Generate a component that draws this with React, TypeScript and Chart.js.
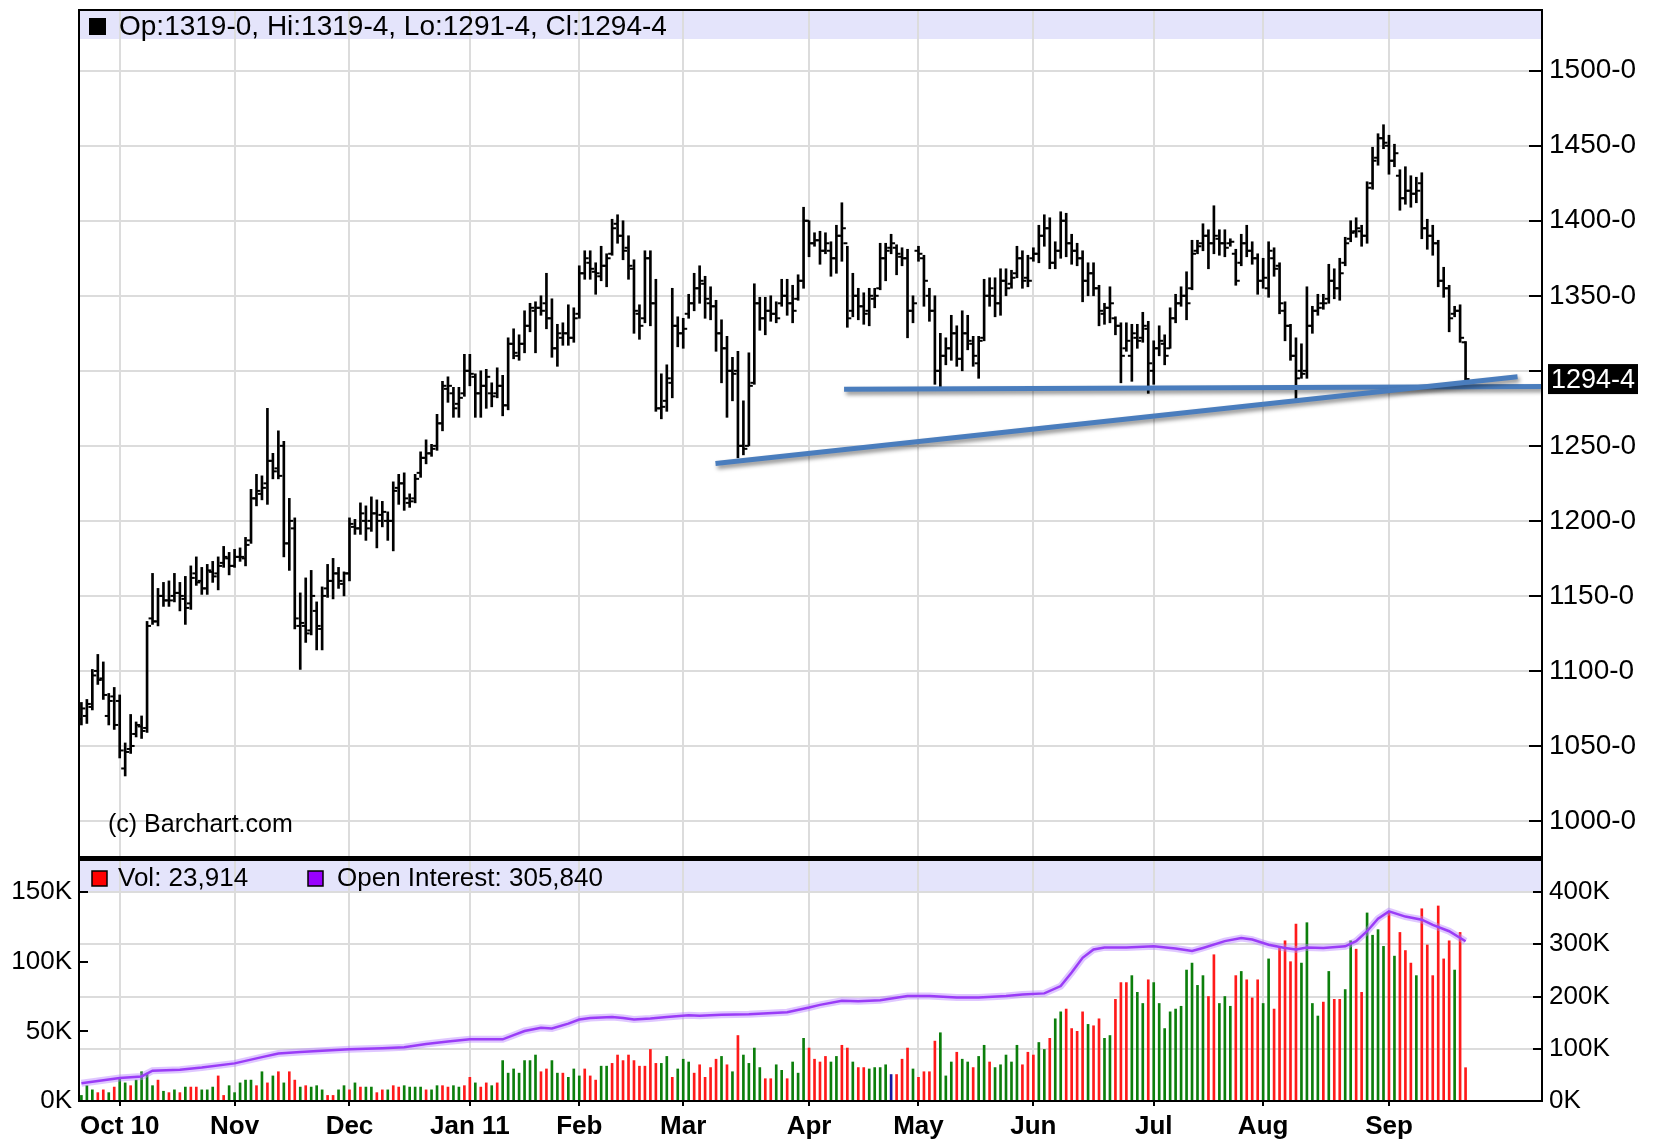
import React, { useEffect, useRef } from 'react';
import { Chart, registerables } from 'chart.js';

Chart.register(...registerables);

const FONT = "'Liberation Sans', Arial, Helvetica, sans-serif";

// ---------- axes / labels ----------
const monthIdx = [7, 28, 49, 71, 91, 110, 133, 153, 174, 196, 216, 239];
const monthLabels = ['Oct 10', 'Nov', 'Dec', 'Jan 11', 'Feb', 'Mar', 'Apr', 'May', 'Jun', 'Jul', 'Aug', 'Sep'];
const priceTicks = [1000, 1050, 1100, 1150, 1200, 1250, 1300, 1350, 1400, 1450, 1500];
const volTicks = [0, 50000, 100000, 150000];
const oiTicks = [0, 100000, 200000, 300000, 400000];

// ---------- daily OHLC (soybeans, index = trading day) ----------
const highs = [1079,1081,1101,1111,1106,1085,1089,1084,1052,1071,
1066,1070,1133,1165,1155,1159,1160,1165,1159,1163,
1170,1176,1169,1171,1173,1176,1183,1179,1181,1182,
1189,1221,1231,1230,1275,1245,1260,1253,1215,1202,
1152,1162,1167,1146,1156,1171,1175,1169,1166,1202,
1201,1212,1210,1216,1214,1213,1206,1226,1231,1232,
1218,1231,1246,1254,1251,1271,1293,1296,1289,1289,
1311,1311,1298,1300,1301,1292,1302,1297,1322,1328,
1324,1340,1345,1346,1350,1365,1348,1331,1332,1344,
1342,1370,1380,1380,1372,1383,1378,1401,1404,1400,
1390,1374,1344,1380,1380,1361,1298,1304,1355,1336,
1335,1351,1365,1370,1363,1356,1347,1334,1323,1309,
1313,1280,1312,1358,1349,1349,1350,1346,1361,1361,
1357,1364,1409,1400,1392,1393,1392,1386,1397,1412,
1383,1365,1355,1352,1355,1355,1385,1385,1391,1384,
1382,1381,1350,1383,1377,1355,1350,1325,1322,1337,
1330,1340,1337,1323,1323,1361,1362,1362,1368,1368,
1367,1383,1380,1377,1382,1397,1404,1402,1386,1406,
1405,1391,1385,1380,1372,1372,1357,1345,1356,1336,
1332,1332,1331,1331,1339,1333,1320,1330,1324,1342,
1351,1356,1366,1387,1387,1398,1394,1410,1394,1394,
1388,1381,1391,1397,1386,1378,1375,1386,1382,1372,
1346,1331,1322,1318,1356,1343,1351,1351,1371,1368,
1375,1389,1400,1402,1397,1426,1449,1458,1464,1457,
1451,1434,1436,1430,1429,1432,1401,1397,1387,1369,
1357,1343,1344,1319.5];

const lows = [1064,1065,1074,1091,1081,1064,1061,1042,1030,1045,
1056,1055,1059,1131,1130,1143,1143,1146,1140,1131,
1141,1157,1151,1151,1159,1154,1169,1164,1169,1173,
1170,1185,1210,1214,1211,1228,1228,1176,1167,1128,
1101,1119,1124,1114,1114,1149,1148,1155,1150,1160,
1191,1191,1187,1193,1182,1196,1187,1180,1211,1207,
1209,1212,1229,1238,1243,1247,1260,1279,1269,1269,
1283,1290,1269,1269,1275,1276,1282,1270,1274,1308,
1307,1312,1326,1312,1337,1328,1309,1303,1317,1317,
1319,1335,1361,1361,1351,1360,1356,1377,1385,1374,
1361,1325,1321,1332,1330,1273,1268,1273,1282,1316,
1315,1335,1340,1345,1335,1334,1313,1292,1269,1280,
1242,1244,1250,1291,1327,1324,1333,1332,1343,1337,
1332,1347,1355,1376,1383,1371,1378,1363,1365,1373,
1329,1336,1334,1331,1330,1342,1354,1360,1378,1364,
1370,1322,1332,1373,1343,1333,1291,1289,1304,1307,
1303,1300,1314,1303,1295,1320,1343,1336,1337,1350,
1355,1362,1355,1356,1373,1372,1383,1368,1368,1375,
1376,1371,1370,1346,1350,1350,1330,1331,1332,1324,
1292,1313,1293,1315,1319,1285,1291,1310,1304,1315,
1332,1343,1334,1354,1378,1380,1368,1378,1377,1376,
1383,1357,1370,1376,1371,1351,1355,1349,1363,1338,
1320,1307,1281,1295,1295,1325,1337,1341,1345,1348,
1347,1370,1386,1389,1383,1385,1421,1437,1448,1431,
1436,1407,1411,1409,1412,1388,1381,1377,1356,1349,
1326,1336,1319,1291.5];

const opens = [1068,1070,1076,1100,1095,1070,1083,1080,1035,1048,
1058,1063,1062,1135,1133,1150,1147,1150,1152,1148,
1145,1165,1160,1155,1166,1165,1172,1175,1170,1176,
1175,1187,1215,1218,1225,1240,1235,1250,1185,1195,
1130,1130,1127,1140,1128,1155,1160,1165,1158,1165,
1196,1195,1200,1200,1205,1204,1200,1200,1222,1225,
1212,1215,1232,1242,1245,1250,1265,1288,1285,1278,
1285,1300,1296,1285,1290,1285,1285,1290,1277,1318,
1310,1318,1330,1340,1342,1345,1335,1315,1322,1325,
1322,1338,1365,1372,1366,1363,1370,1378,1398,1390,
1382,1368,1338,1335,1375,1345,1275,1280,1292,1330,
1325,1338,1345,1355,1358,1345,1343,1325,1315,1300,
1300,1250,1250,1292,1345,1335,1340,1338,1345,1350,
1345,1348,1360,1400,1385,1387,1380,1380,1375,1390,
1385,1340,1350,1343,1340,1348,1355,1375,1382,1382,
1376,1375,1340,1380,1375,1350,1340,1300,1310,1315,
1325,1308,1325,1318,1305,1322,1350,1350,1345,1360,
1358,1365,1375,1362,1375,1378,1390,1395,1372,1380,
1400,1385,1380,1375,1360,1365,1355,1338,1342,1335,
1330,1315,1310,1322,1322,1328,1300,1315,1318,1315,
1335,1345,1350,1355,1380,1385,1390,1385,1388,1385,
1385,1378,1372,1385,1380,1375,1360,1355,1375,1370,
1340,1330,1310,1300,1300,1330,1340,1345,1348,1360,
1355,1372,1388,1393,1393,1390,1425,1442,1455,1450,
1440,1430,1415,1420,1418,1425,1395,1390,1385,1360,
1355,1338,1340,1319];

const closes = [1075,1078,1097,1094,1084,1080,1064,1047,1046,1050,
1064,1060,1130,1133,1150,1147,1147,1152,1150,1142,
1162,1159,1155,1167,1163,1170,1176,1170,1176,1176,
1184,1215,1220,1222,1240,1233,1230,1185,1200,1135,
1132,1125,1150,1130,1150,1160,1165,1160,1165,1198,
1195,1205,1195,1205,1200,1206,1200,1220,1225,1215,
1213,1228,1242,1245,1248,1265,1290,1290,1275,1282,
1300,1298,1285,1290,1296,1283,1290,1277,1318,1312,
1318,1330,1342,1342,1340,1335,1315,1325,1325,1322,
1335,1365,1375,1368,1365,1370,1375,1395,1390,1380,
1370,1340,1330,1375,1345,1275,1276,1295,1330,1325,
1328,1345,1355,1360,1348,1343,1325,1315,1300,1298,
1250,1248,1290,1345,1335,1340,1338,1335,1350,1345,
1340,1360,1400,1385,1387,1380,1385,1375,1390,1395,
1335,1350,1343,1338,1350,1350,1375,1380,1385,1378,
1375,1340,1345,1378,1360,1340,1300,1310,1315,1325,
1308,1325,1320,1310,1320,1350,1355,1345,1360,1355,
1362,1375,1360,1360,1378,1390,1395,1372,1380,1400,
1385,1380,1375,1360,1365,1355,1340,1342,1345,1330,
1310,1320,1325,1320,1330,1305,1315,1320,1310,1335,
1345,1350,1345,1378,1383,1390,1385,1390,1385,1382,
1386,1360,1385,1380,1375,1360,1362,1380,1368,1345,
1330,1310,1295,1298,1330,1340,1342,1345,1360,1355,
1365,1385,1392,1395,1390,1422,1440,1455,1452,1440,
1445,1415,1420,1418,1420,1395,1390,1385,1360,1355,
1335,1340,1322,1294.5];

// ---------- volume (thousands) and day direction ----------
const volumesK = [4,11,8,6,8,6,10,17,13,11,
15,21,20,11,15,7,6,8,6,10,
10,10,8,8,10,18,4,11,6,13,
15,15,11,21,13,18,21,13,21,15,
10,11,10,11,8,4,4,8,11,8,
13,10,10,10,6,8,8,11,10,11,
10,10,10,8,8,11,11,10,11,10,
11,17,13,10,13,11,13,29,20,23,
20,29,29,33,21,23,29,20,20,17,
23,18,23,18,15,25,25,27,33,29,
33,29,25,25,37,27,27,32,17,23,
30,28,20,26,17,24,30,32,26,21,
47,33,27,38,24,16,16,26,22,16,
28,20,45,38,30,28,32,28,32,40,
38,28,24,24,23,24,24,26,19,19,
30,38,23,17,21,21,43,49,18,28,
35,30,28,24,32,40,28,24,26,33,
28,40,26,35,33,42,37,45,59,64,
66,52,50,64,55,54,59,45,47,73,
85,85,90,78,70,87,85,70,52,64,
66,68,94,99,83,90,75,105,70,75,
68,90,93,87,74,87,70,102,66,111,
115,100,127,99,128,70,61,71,93,73,
73,80,115,109,78,135,119,123,111,136,
104,121,108,99,90,138,112,90,140,102,
115,94,121,23.914];

const volDir = (
  'gggrrgrggr' + 'ggggrgrgrg' + 'rrgggrrggg' + 'ggrgrgrgrr' + 'grgggrrggr' +
  'grggrrgrrg' + 'gggrggrrgg' + 'rrgrrgrggg' + 'ggggrrggrg' + 'ggrrrggrrr' +
  'rrrrrrggrg' + 'ggrrrrrgrg' + 'rggggrrggr' + 'gggrrrrggr' + 'rgrrggggbr' +
  'rrgrrrrggg' + 'rggrggrggg' + 'ggrrrggrgg' + 'rrrrgrrggr' + 'rrgggrgggg' +
  'ggggggrrgg' + 'grgrrrggrr' + 'rrrggggrgr' + 'rggrrggggr' + 'grrrgrrrrr' +
  'rgrr'
).split('');

// ---------- open interest (thousands) ----------
const oiIdx = [0,7,11,13,18,22,28,33,36,40,44,49,55,59,63,67,71,75,77,79,81,84,86,89,91,93,97,99,101,104,107,111,113,117,122,129,133,135,139,142,146,151,155,160,164,169,172,176,179,181,183,185,187,191,196,200,203,205,209,212,214,217,220,222,224,227,231,233,235,237,239,242,245,247,250,253];
const oiK = [34,44,47,58,60,64,72,84,91,94,96,99,101,103,109,114,118,118,118,126,134,140,139,148,156,159,161,159,156,158,161,164,163,165,166,170,179,184,192,191,193,201,201,198,198,201,204,206,220,246,274,290,294,294,296,292,287,293,306,312,309,299,293,290,294,293,296,306,325,349,363,353,347,337,325,305.84];

// ---------- hand-drawn trend lines (index, price) ----------
const trendRiseIdx = [115.9, 262.5];
const trendRiseVal = [1238.3, 1296.0];
const trendFlatIdx = [139.4, 266.97];
const trendFlatVal = [1287.7, 1289.6];

const X_MIN = -0.44;
const X_MAX = 266.97;

const GRID = '#dcdcdc';
const BAND = '#e4e4fb';

const fmt8 = (v: number) => `${Math.floor(v)}-${Math.round((v - Math.floor(v)) * 8)}`;
const last = highs.length - 1;

const shadowHooks = {
  beforeDatasetDraw(chart: any, args: any) {
    const ds = chart.data.datasets[args.index];
    if (ds && ds.shadow) {
      const ctx = chart.ctx;
      ctx.save();
      ctx.shadowColor = 'rgba(0,0,0,0.45)';
      ctx.shadowBlur = 4;
      ctx.shadowOffsetX = 2;
      ctx.shadowOffsetY = 3;
    }
  },
  afterDatasetDraw(chart: any, args: any) {
    const ds = chart.data.datasets[args.index];
    if (ds && ds.shadow) chart.ctx.restore();
  },
};

function xScale(extra: any) {
  return {
    type: 'linear',
    min: X_MIN,
    max: X_MAX,
    offset: false,
    afterBuildTicks: (s: any) => {
      s.ticks = monthIdx.map((v) => ({ value: v }));
    },
    border: { display: false },
    ...extra,
  };
}

export default function App() {
  const priceRef = useRef<HTMLCanvasElement>(null);
  const volRef = useRef<HTMLCanvasElement>(null);

  useEffect(() => {
    const lastClose = closes[last];

    const pricePanel = {
      id: 'pricePanel',
      beforeDraw(chart: any) {
        const { ctx, chartArea: a } = chart;
        ctx.save();
        ctx.fillStyle = '#fff';
        ctx.fillRect(0, 0, chart.width, chart.height);
        ctx.fillStyle = BAND;
        ctx.fillRect(a.left, a.top, a.right - a.left, 29);
        ctx.restore();
      },
      ...shadowHooks,
      afterDraw(chart: any) {
        const { ctx, chartArea: a, scales } = chart;
        ctx.save();
        ctx.strokeStyle = '#000';
        ctx.lineWidth = 2;
        for (const v of priceTicks) {
          const y = Math.round(scales.y.getPixelForValue(v));
          ctx.beginPath();
          ctx.moveTo(a.right - 13, y);
          ctx.lineTo(a.right, y);
          ctx.stroke();
        }
        ctx.strokeRect(a.left, a.top, a.right - a.left, a.bottom - a.top);
        // header
        ctx.fillStyle = '#000';
        ctx.fillRect(89, 18, 17, 17);
        ctx.font = `28px ${FONT}`;
        ctx.textBaseline = 'middle';
        ctx.textAlign = 'left';
        ctx.fillText(
          `Op:${fmt8(opens[last])}, Hi:${fmt8(highs[last])}, Lo:${fmt8(lows[last])}, Cl:${fmt8(lastClose)}`,
          119,
          27
        );
        ctx.font = `25px ${FONT}`;
        ctx.fillText('(c) Barchart.com', 108, 825);
        // last price box
        const ly = scales.y.getPixelForValue(lastClose);
        ctx.fillStyle = '#000';
        ctx.fillRect(1548, ly - 15, 90, 30);
        ctx.fillStyle = '#fff';
        ctx.font = `27px ${FONT}`;
        ctx.fillText(fmt8(lastClose), 1551, ly + 1);
        ctx.restore();
      },
    };

    const priceChart = new Chart(priceRef.current as HTMLCanvasElement, {
      type: 'bar',
      data: {
        datasets: [
          {
            type: 'line',
            data: trendRiseIdx.map((x, i) => ({ x, y: trendRiseVal[i] })),
            borderColor: '#4a7dbd',
            borderWidth: 5,
            pointRadius: 0,
            pointHoverRadius: 0,
            order: 0,
            shadow: true,
          } as any,
          {
            type: 'line',
            data: trendFlatIdx.map((x, i) => ({ x, y: trendFlatVal[i] })),
            borderColor: '#4a7dbd',
            borderWidth: 5,
            pointRadius: 0,
            pointHoverRadius: 0,
            order: 0,
            shadow: true,
          } as any,
          {
            type: 'scatter',
            data: opens.map((v, i) => ({ x: i - 0.36, y: v })),
            pointStyle: 'line',
            pointRadius: 2,
            pointHoverRadius: 2,
            pointBorderWidth: 2,
            pointBorderColor: '#000',
            pointBackgroundColor: '#000',
            order: 1,
          } as any,
          {
            type: 'scatter',
            data: closes.map((v, i) => ({ x: i + 0.36, y: v })),
            pointStyle: 'line',
            pointRadius: 2,
            pointHoverRadius: 2,
            pointBorderWidth: 2,
            pointBorderColor: '#000',
            pointBackgroundColor: '#000',
            order: 1,
          } as any,
          {
            type: 'bar',
            data: highs.map((h, i) => ({ x: i, y: [lows[i], h] })),
            backgroundColor: '#000',
            barThickness: 2,
            order: 2,
          } as any,
        ],
      },
      options: {
        responsive: false,
        animation: false,
        events: [],
        layout: { autoPadding: false, padding: { left: 79, top: 10, right: 0, bottom: 0 } },
        plugins: { legend: { display: false }, tooltip: { enabled: false } },
        scales: {
          x: xScale({
            ticks: { display: false },
            grid: { color: GRID, lineWidth: 2, drawTicks: false, offset: false },
            afterFit: (s: any) => {
              s.height = 0;
              s.paddingLeft = 0;
              s.paddingRight = 0;
            },
          }),
          y: {
            type: 'linear',
            position: 'right',
            min: 976,
            max: 1540.45,
            afterBuildTicks: (s: any) => {
              s.ticks = priceTicks.map((v) => ({ value: v }));
            },
            ticks: {
              callback: (v: any) => (Math.abs(v - lastClose) < 15 ? '' : `${v}-0`),
              font: { size: 28, family: FONT },
              color: '#000',
              padding: 7,
            },
            grid: { color: GRID, lineWidth: 2, drawTicks: false },
            border: { display: false },
            afterFit: (s: any) => {
              s.width = 113;
              s.paddingTop = 0;
              s.paddingBottom = 0;
            },
          },
        } as any,
      },
      plugins: [pricePanel],
    });

    const volPanel = {
      id: 'volPanel',
      beforeDraw(chart: any) {
        const { ctx, chartArea: a } = chart;
        ctx.save();
        ctx.fillStyle = '#fff';
        ctx.fillRect(0, 0, chart.width, chart.height);
        ctx.fillStyle = BAND;
        ctx.fillRect(a.left, a.top, a.right - a.left, 32);
        ctx.restore();
      },
      afterDraw(chart: any) {
        const { ctx, chartArea: a, scales } = chart;
        ctx.save();
        ctx.strokeStyle = '#000';
        ctx.lineWidth = 2;
        for (const v of volTicks) {
          const y = Math.round(scales.y.getPixelForValue(v));
          ctx.beginPath();
          ctx.moveTo(a.left, y);
          ctx.lineTo(a.left + 9, y);
          ctx.stroke();
        }
        for (const v of oiTicks) {
          const y = Math.round(scales.y1.getPixelForValue(v));
          ctx.beginPath();
          ctx.moveTo(a.right - 9, y);
          ctx.lineTo(a.right, y);
          ctx.stroke();
        }
        ctx.strokeRect(a.left, a.top, a.right - a.left, a.bottom - a.top);
        ctx.fillStyle = '#000';
        ctx.fillRect(a.left - 1, 0, a.right - a.left + 2, 3);
        // header legend
        ctx.fillStyle = '#ff0000';
        ctx.fillRect(92, 14, 15, 15);
        ctx.strokeStyle = '#000';
        ctx.lineWidth = 1.5;
        ctx.strokeRect(92, 14, 15, 15);
        ctx.fillStyle = '#9900ff';
        ctx.fillRect(308, 14, 15, 15);
        ctx.strokeRect(308, 14, 15, 15);
        ctx.fillStyle = '#000';
        ctx.font = `26px ${FONT}`;
        ctx.textBaseline = 'middle';
        const vol = Math.round(volumesK[last] * 1000).toLocaleString('en-US');
        const oi = Math.round(oiK[oiK.length - 1] * 1000).toLocaleString('en-US');
        ctx.fillText(`Vol: ${vol}`, 118, 22);
        ctx.fillText(`Open Interest: ${oi}`, 337, 22);
        ctx.restore();
      },
    };

    const volColor = (d: string) => (d === 'g' ? '#0c7f0c' : d === 'b' ? '#1a1aa0' : '#ff1a1a');

    const volChart = new Chart(volRef.current as HTMLCanvasElement, {
      type: 'bar',
      data: {
        datasets: [
          {
            type: 'line',
            yAxisID: 'y1',
            data: oiIdx.map((x, i) => ({ x, y: oiK[i] * 1000 })),
            borderColor: 'rgba(185,130,255,0.45)',
            borderWidth: 7,
            pointRadius: 0,
            pointHoverRadius: 0,
            order: 1,
          } as any,
          {
            type: 'line',
            yAxisID: 'y1',
            data: oiIdx.map((x, i) => ({ x, y: oiK[i] * 1000 })),
            borderColor: '#9a3cf7',
            borderWidth: 2.5,
            pointRadius: 0,
            pointHoverRadius: 0,
            order: 0,
          } as any,
          {
            type: 'bar',
            yAxisID: 'y',
            data: volumesK.map((v, i) => ({ x: i, y: v * 1000 })),
            backgroundColor: volDir.map(volColor),
            barThickness: 2,
            order: 2,
          } as any,
        ],
      },
      options: {
        responsive: false,
        animation: false,
        events: [],
        layout: { autoPadding: false, padding: { left: 0, top: 3, right: 0, bottom: 0 } },
        plugins: { legend: { display: false }, tooltip: { enabled: false } },
        scales: {
          x: xScale({
            ticks: {
              autoSkip: false,
              maxRotation: 0,
              callback: (_v: any, i: number) => monthLabels[i],
              font: { size: 26, weight: 'bold', family: FONT },
              color: '#000',
              padding: 5,
            },
            grid: {
              color: GRID,
              lineWidth: 2,
              drawTicks: true,
              tickLength: 5,
              tickColor: '#000',
              tickWidth: 2,
              offset: false,
            },
            afterFit: (s: any) => {
              s.height = 41;
              s.paddingLeft = 0;
              s.paddingRight = 0;
            },
          }),
          y: {
            type: 'linear',
            position: 'left',
            min: 0,
            max: 173000,
            afterBuildTicks: (s: any) => {
              s.ticks = volTicks.map((v) => ({ value: v }));
            },
            ticks: {
              callback: (v: any) => `${v / 1000}K`,
              font: { size: 26, family: FONT },
              color: '#000',
              padding: 7,
            },
            grid: { display: false, drawTicks: false },
            border: { display: false },
            afterFit: (s: any) => {
              s.width = 79;
              s.paddingTop = 0;
              s.paddingBottom = 0;
            },
          },
          y1: {
            type: 'linear',
            position: 'right',
            min: 0,
            max: 461333,
            afterBuildTicks: (s: any) => {
              s.ticks = oiTicks.map((v) => ({ value: v }));
            },
            ticks: {
              callback: (v: any) => `${v / 1000}K`,
              font: { size: 26, family: FONT },
              color: '#000',
              padding: 7,
            },
            grid: { color: GRID, lineWidth: 2, drawTicks: false },
            border: { display: false },
            afterFit: (s: any) => {
              s.width = 113;
              s.paddingTop = 0;
              s.paddingBottom = 0;
            },
          },
        } as any,
      },
      plugins: [volPanel],
    });

    return () => {
      priceChart.destroy();
      volChart.destroy();
    };
  }, []);

  return (
    <div style={{ position: 'absolute', left: 0, top: 0, width: 1655, height: 1142, background: '#fff' }}>
      <canvas
        ref={priceRef}
        width={1655}
        height={857}
        style={{ position: 'absolute', left: 0, top: 0, width: 1655, height: 857 }}
      />
      <canvas
        ref={volRef}
        width={1655}
        height={285}
        style={{ position: 'absolute', left: 0, top: 857, width: 1655, height: 285 }}
      />
    </div>
  );
}
